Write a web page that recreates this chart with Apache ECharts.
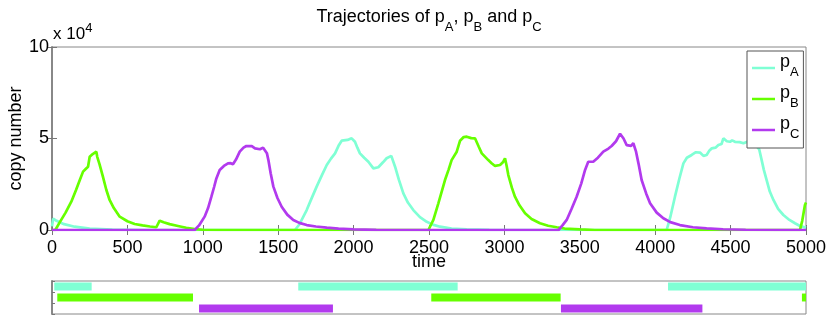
<!DOCTYPE html>
<html><head><meta charset="utf-8">
<script src="https://cdn.jsdelivr.net/npm/echarts@6/dist/echarts.min.js"></script>
<style>html,body{margin:0;padding:0;background:#fff}#c{width:830px;height:315px}</style>
</head><body><div id="c"></div>
<script>
// ---- data (time, copy number) ----
const pA = [[0,2000],[8,6200],[30,5000],[80,3200],[150,1800],[250,800],[400,200],[600,0],[1611,0],[1640,3000],[1689,10900],[1720,17000],[1755,23700],[1790,30000],[1822,35500],[1850,39000],[1877,41900],[1900,46000],[1921,48800],[1960,49200],[1987,50100],[2009,48200],[2025,45000],[2042,41900],[2070,39500],[2098,37300],[2131,33700],[2164,34300],[2195,37000],[2219,39200],[2250,40500],[2263,40000],[2275,34600],[2300,27500],[2330,20000],[2360,15000],[2396,10900],[2440,7000],[2485,4500],[2530,2800],[2573,1800],[2650,800],[2750,300],[2900,50],[3000,0],[4076,0],[4100,7000],[4131,18200],[4160,28000],[4187,36400],[4210,39500],[4242,41000],[4270,42500],[4297,42300],[4320,40500],[4341,41000],[4360,43500],[4375,44600],[4400,45000],[4419,46400],[4440,47000],[4452,50100],[4475,48500],[4496,48200],[4510,49000],[4529,48200],[4560,48000],[4585,47400],[4620,48500],[4650,48000],[4690,44000],[4706,38200],[4720,33000],[4739,27300],[4760,21000],[4784,16400],[4815,11500],[4850,8200],[4890,5500],[4927,3700],[4960,2200],[5000,1300]];
const pB = [[0,0],[22,0],[50,4000],[90,9500],[128,15500],[160,22000],[185,27500],[206,31900],[225,33500],[239,34600],[250,40000],[270,41500],[294,42800],[300,40000],[315,36000],[338,29000],[360,22000],[382,16400],[410,12000],[449,7300],[500,4800],[548,3300],[600,2500],[650,1900],[692,1500],[700,2500],[714,5100],[740,4200],[780,3200],[835,2200],[890,1200],[946,500],[1000,150],[1100,0],[2496,0],[2529,5500],[2562,14600],[2606,27300],[2630,33000],[2650,38200],[2684,42800],[2706,48800],[2730,50800],[2750,51000],[2780,50200],[2805,50100],[2830,45500],[2850,41900],[2893,38200],[2915,36500],[2938,35000],[2971,35500],[2990,37000],[3004,39200],[3015,35000],[3026,30000],[3050,23000],[3070,18200],[3100,13500],[3137,9100],[3180,6000],[3236,3700],[3290,2300],[3347,1500],[3400,800],[3500,300],[3600,0],[4960,0],[4975,5000],[4993,13700],[5000,15000]];
const pC = [[0,0],[946,0],[975,2500],[1012,7300],[1035,12000],[1057,18200],[1075,23500],[1090,28200],[1112,32800],[1140,35000],[1167,36400],[1185,36500],[1200,35900],[1220,38500],[1245,42800],[1270,45000],[1289,45900],[1302,46400],[1325,45800],[1346,44600],[1379,44100],[1400,45000],[1412,45200],[1425,42000],[1435,38200],[1450,31000],[1468,23700],[1495,17500],[1523,12700],[1560,8400],[1600,5500],[1640,3900],[1689,2700],[1750,1900],[1822,1300],[1900,700],[2000,300],[2150,100],[2300,0],[3359,0],[3385,2500],[3413,5500],[3445,11500],[3479,18200],[3510,25500],[3535,32800],[3556,37300],[3589,37300],[3620,39500],[3656,42800],[3690,44500],[3711,45900],[3740,48500],[3767,52600],[3790,50000],[3811,46400],[3822,45500],[3840,46000],[3855,47400],[3873,42800],[3890,36000],[3910,27300],[3940,20000],[3966,14600],[4010,9500],[4054,6400],[4100,4300],[4164,2700],[4250,1500],[4341,900],[4450,400],[4600,150],[4800,0],[5000,0]];
// bottom panel: [row, start, end]
const barsA = [[1,15,263],[1,1633,2690],[1,4085,5000]];
const barsB = [[2,35,935],[2,2515,3373],[2,4973,5000]];
const barsC = [[3,975,1863],[3,3375,4313]];
const names = ['{m|p}{s|A}','{m|p}{s|B}','{m|p}{s|C}'];
const colors = ['#7fffd4','#66ff00','#b23aee'];

const FONT = 'Liberation Sans';
const chart = echarts.init(document.getElementById('c'), null, {renderer:'canvas'});

function renderBar(params, api){
  const row = api.value(0), s = api.value(1), e = api.value(2);
  const p0 = api.coord([s, row]);
  const p1 = api.coord([e, row]);
  const h = api.size([0, 1])[1] * 0.72;
  const cs = params.coordSys;
  const shape = echarts.graphic.clipRectByRect(
    {x:p0[0], y:p0[1]-h/2, width:p1[0]-p0[0], height:h},
    {x:cs.x, y:cs.y, width:cs.width, height:cs.height});
  return shape && {type:'rect', shape: shape, style:{fill: api.visual('color')}};
}

const lineSeries = [pA,pB,pC].map((d,i)=>({
  name: names[i], type:'line', data:d, showSymbol:false, symbol:'none',
  xAxisIndex:0, yAxisIndex:0, lineStyle:{width:2.7, color:colors[i]}, itemStyle:{color:colors[i]},
  z: 2+i
}));
const barSeries = [barsA,barsB,barsC].map((d,i)=>({
  type:'custom', renderItem: renderBar, data:d, xAxisIndex:2, yAxisIndex:2,
  encode:{x:[1,2], y:0}, itemStyle:{color:colors[i]}
}));

const tickStyle = {show:true, inside:true, length:5, lineStyle:{color:'#777', width:1}};
chart.setOption({
  animation:false,
  textStyle:{fontFamily:FONT},
  grid:[
    {left:52, top:47, right:24, height:183, show:true, borderColor:'#888', borderWidth:1, backgroundColor:'#fff', containLabel:false, outerBoundsMode:'none'},
    {left:52, top:281, right:24, height:33, show:true, borderColor:'#888', borderWidth:1, containLabel:false, outerBoundsMode:'none'}
  ],
  xAxis:[
    {gridIndex:0, type:'value', min:0, max:5000, interval:500, position:'bottom',
     axisLine:{show:false}, axisTick:tickStyle, splitLine:{show:false},
     axisLabel:{color:'#000', fontSize:18, margin:9, fontFamily:FONT, formatter:v=>String(v)},
     name:'time', nameLocation:'middle', nameGap:23, nameMoveOverlap:false,
     nameTextStyle:{color:'#000', fontSize:18, fontFamily:FONT}},
    {gridIndex:0, type:'value', min:0, max:5000, interval:500, position:'top',
     axisLine:{show:false}, axisTick:tickStyle, splitLine:{show:false}, axisLabel:{show:false}},
    {gridIndex:1, type:'value', min:0, max:5000, position:'bottom',
     axisLine:{show:false}, axisTick:{show:false}, splitLine:{show:false}, axisLabel:{show:false}}
  ],
  yAxis:[
    {gridIndex:0, type:'value', min:0, max:100000, interval:50000, position:'left',
     axisLine:{show:true, lineStyle:{color:'#888', width:2}}, axisTick:tickStyle, splitLine:{show:false},
     axisLabel:{color:'#000', fontSize:18, margin:3, fontFamily:FONT, formatter:v=>String(v/10000)},
     name:'copy number', nameLocation:'middle', nameGap:27, nameMoveOverlap:false,
     nameTextStyle:{color:'#000', fontSize:18, fontFamily:FONT}},
    {gridIndex:0, type:'value', min:0, max:100000, interval:50000, position:'right',
     axisLine:{show:false}, axisTick:tickStyle, splitLine:{show:false}, axisLabel:{show:false}},
    {gridIndex:1, type:'value', min:0.5, max:3.5, interval:1, inverse:true, position:'left',
     axisLine:{show:true, lineStyle:{color:'#888', width:2}}, axisTick:{show:true, inside:true, length:3, lineStyle:{color:'#777'}},
     splitLine:{show:false}, axisLabel:{show:false}}
  ],
  legend:{
    data:names, orient:'vertical', left:747, top:51, padding:[2,4,3,5], itemGap:1,
    itemWidth:23, itemHeight:2.5, icon:'rect',
    borderColor:'#555', borderWidth:1, backgroundColor:'#fff',
    textStyle:{
      fontFamily:FONT, color:'#000', fontSize:18,
      rich:{
        m:{fontSize:18, lineHeight:32, padding:[0,0,12,0], fontFamily:FONT, color:'#000'},
        s:{fontSize:13, lineHeight:13, padding:[9,0,0,0], fontFamily:FONT, color:'#000'}
      }
    }
  },
  graphic:[
    {type:'text', x:429, y:17, style:{
      text:'Trajectories of p{s|A}, p{s|B} and p{s|C}', align:'center', verticalAlign:'middle',
      font:'18px "Liberation Sans"', fill:'#000',
      rich:{s:{fontSize:13, lineHeight:13, padding:[20,0,0,0], fontFamily:FONT, fill:'#000'}}
    }},
    {type:'text', x:53, y:34.4, style:{
      text:'x 10{u|4}', align:'left', verticalAlign:'middle',
      font:'17px "Liberation Sans"', fill:'#000',
      rich:{u:{fontSize:13, lineHeight:13, padding:[0,0,11,0], fontFamily:FONT, fill:'#000'}}
    }}
  ],
  series: lineSeries.concat(barSeries)
});
</script></body></html>
